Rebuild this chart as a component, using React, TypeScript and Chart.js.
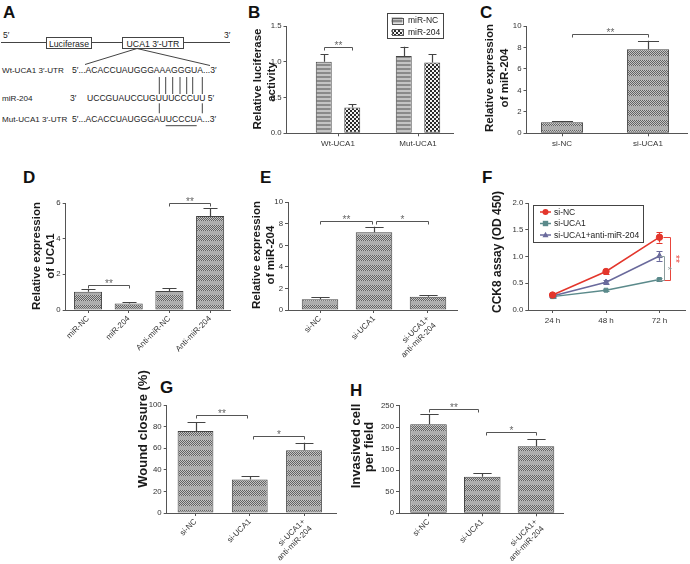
import React, { useEffect, useRef } from "react";
import { Chart, registerables } from "chart.js";

Chart.register(...registerables);

const FONT = "'Liberation Sans', Arial, Helvetica, sans-serif";
Chart.defaults.font.family = FONT;

// ===== Panel B =====
const bCategories = ["Wt-UCA1", "Mut-UCA1"];
const bSeries = ["miR-NC", "miR-204"];
const bMiRNC = [1.0, 1.08];
const bMiRNCErr = [0.11, 0.13];
const bMiR204 = [0.36, 0.99];
const bMiR204Err = [0.05, 0.12];
const bYTicks = [0, 0.5, 1.0, 1.5];

// ===== Panel C =====
const cCategories = ["si-NC", "si-UCA1"];
const cValues = [1.02, 7.83];
const cErrors = [0.12, 0.8];
const cYTicks = [0, 2, 4, 6, 8, 10];

// ===== Panel D =====
const dCategories = ["miR-NC", "miR-204", "Anti-miR-NC", "Anti-miR-204"];
const dValues = [1.02, 0.37, 1.06, 5.27];
const dErrors = [0.14, 0.06, 0.15, 0.43];
const dYTicks = [0, 2, 4, 6];

// ===== Panel E =====
const eCategories = ["si-NC", "si-UCA1", ["si-UCA1+", "anti-miR-204"]];
const eValues = [0.99, 7.21, 1.24];
const eErrors = [0.18, 0.53, 0.15];
const eYTicks = [0, 2, 4, 6, 8, 10];

// ===== Panel F =====
const fCategories = ["24 h", "48 h", "72 h"];
const fSeries = ["si-NC", "si-UCA1", "si-UCA1+anti-miR-204"];
const fSiNC = [0.28, 0.72, 1.36];
const fSiNCErr = [0.02, 0.05, 0.1];
const fSiUCA1 = [0.25, 0.37, 0.57];
const fSiUCA1Err = [0.02, 0.02, 0.03];
const fAnti = [0.26, 0.52, 1.01];
const fAntiErr = [0.02, 0.04, 0.09];
const fYTicks = [0, 0.5, 1.0, 1.5, 2.0];

// ===== Panel G =====
const gCategories = ["si-NC", "si-UCA1", ["si-UCA1+", "anti-miR-204"]];
const gValues = [76, 31, 58];
const gErrors = [8, 3, 7];
const gYTicks = [0, 20, 40, 60, 80, 100];

// ===== Panel H =====
const hCategories = ["si-NC", "si-UCA1", ["si-UCA1+", "anti-miR-204"]];
const hValues = [207, 85, 156];
const hErrors = [23, 8, 16];
const hYTicks = [0, 50, 100, 150, 200, 250];

// ===== axis titles =====
const bTitle = ["Relative luciferase", "activity"];
const cTitle = ["Relative expression", "of miR-204"];
const dTitle = ["Relative expression", "of UCA1"];
const eTitle = ["Relative expression", "of miR-204"];
const fTitle = ["CCK8 assay (OD 450)"];
const gTitle = ["Wound closure (%)"];
const hTitle = ["Invasived cell", "per field"];

// ===== significance brackets ([datasetIndex, index]) =====
const bSig = [{ from: [0, 0], to: [1, 0], y: 1.21, text: "**" }];
const cSig = [{ from: [0, 0], to: [0, 1], y: 9.3, text: "**", dx1: 10 }];
const dSig = [
  { from: [0, 0], to: [0, 1], y: 1.4, text: "**" },
  { from: [0, 2], to: [0, 3], y: 6.0, text: "**" },
];
const eSig = [
  { from: [0, 0], to: [0, 1], y: 8.26, text: "**", dx2: -2 },
  { from: [0, 1], to: [0, 2], y: 8.26, text: "*", dx1: 2 },
];
const gSig = [
  { from: [0, 0], to: [0, 1], y: 90.7, text: "**", dx2: -3 },
  { from: [0, 1], to: [0, 2], y: 71, text: "*", dx1: 3 },
];
const hSig = [
  { from: [0, 0], to: [0, 1], y: 242, text: "**", dx2: -4 },
  { from: [0, 1], to: [0, 2], y: 190, text: "*", dx1: 4 },
];
const fSig = [
  { from: [0, 2], to: [1, 2], dx: 11, tick: 7, tdx: 6, text: "**", color: "#e8453c" },
  { from: [2, 2], to: [1, 2], dx: 5, tick: 5, tdx: 4, text: "*", color: "#8c9c9c" },
];

const F_COLORS = ["#e3362c", "#5b8a8b", "#6a6a9c"];
const F_STYLES = ["circle", "rect", "triangle"];

// ===== patterns =====
function makePattern(kind: string): any {
  const c = document.createElement("canvas");
  const ctx = c.getContext("2d")!;
  if (kind === "checker") {
    c.width = 4;
    c.height = 4;
    ctx.fillStyle = "#f2f2f2";
    ctx.fillRect(0, 0, 4, 4);
    ctx.fillStyle = "#2a2a2a";
    ctx.fillRect(0, 0, 2, 2);
    ctx.fillRect(2, 2, 2, 2);
  } else if (kind === "stripes") {
    c.width = 2;
    c.height = 4;
    ctx.fillStyle = "#8a8a8a";
    ctx.fillRect(0, 0, 2, 2);
    ctx.fillStyle = "#c4c4c4";
    ctx.fillRect(0, 2, 2, 2);
  } else {
    c.width = 2;
    c.height = 10;
    for (let yy = 0; yy < 6; yy++)
      for (let xx = 0; xx < 2; xx++) {
        ctx.fillStyle = (xx + yy) % 2 ? "#c4c4c4" : "#626262";
        ctx.fillRect(xx, yy, 1, 1);
      }
    ctx.fillStyle = "#adadad";
    ctx.fillRect(0, 6, 2, 4);
  }
  return ctx.createPattern(c, "repeat");
}

// ===== plugins =====
function errorBars(errs: any[], opt: any = {}) {
  const draw = (chart: any) => {
    const ctx = chart.ctx;
    const ys = chart.scales.y;
    ctx.save();
    errs.forEach((arr: number[], di: number) => {
      if (!arr) return;
      const meta = chart.getDatasetMeta(di);
      const ds = chart.data.datasets[di];
      ctx.strokeStyle = opt.color || ds.borderColor || "#444";
      ctx.lineWidth = opt.width || 1.2;
      meta.data.forEach((el: any, i: number) => {
        const v = ds.data[i];
        const e = arr[i];
        if (e == null) return;
        const x = Math.round(el.x) + 0.5;
        const y0 = ys.getPixelForValue(opt.both ? v - e : v);
        const y1 = ys.getPixelForValue(v + e);
        const cap = opt.cap != null ? opt.cap : el.width * (opt.capRatio || 0.5);
        ctx.beginPath();
        ctx.moveTo(x, y0);
        ctx.lineTo(x, y1);
        const yc = Math.round(y1) + 0.5;
        ctx.moveTo(x - cap / 2, yc);
        ctx.lineTo(x + cap / 2, yc);
        if (opt.both) {
          const yd = Math.round(y0) + 0.5;
          ctx.moveTo(x - cap / 2, yd);
          ctx.lineTo(x + cap / 2, yd);
        }
        ctx.stroke();
      });
    });
    ctx.restore();
  };
  return opt.before
    ? { id: "errorBars", beforeDatasetsDraw: draw }
    : { id: "errorBars", afterDatasetsDraw: draw };
}

function sigBrackets(items: any[]) {
  return {
    id: "sigBrackets",
    afterDraw(chart: any) {
      const ctx = chart.ctx;
      const ys = chart.scales.y;
      ctx.save();
      ctx.lineWidth = 1;
      for (const it of items) {
        const e1 = chart.getDatasetMeta(it.from[0]).data[it.from[1]];
        const e2 = chart.getDatasetMeta(it.to[0]).data[it.to[1]];
        ctx.strokeStyle = it.color || "#555";
        ctx.fillStyle = it.color || "#666";
        if (it.dx != null) {
          const x = Math.round(Math.max(e1.x, e2.x) + it.dx) + 0.5;
          const y1 = Math.round(e1.y) + 0.5;
          const y2 = Math.round(e2.y) + 0.5;
          ctx.beginPath();
          ctx.moveTo(x - it.tick, y1);
          ctx.lineTo(x, y1);
          ctx.lineTo(x, y2);
          ctx.lineTo(x - it.tick, y2);
          ctx.stroke();
          ctx.save();
          ctx.translate(x + it.tdx, (y1 + y2) / 2);
          ctx.rotate(Math.PI / 2);
          ctx.font = `10px ${FONT}`;
          ctx.textAlign = "center";
          ctx.textBaseline = "middle";
          ctx.fillText(it.text, 0, 2);
          ctx.restore();
        } else {
          const x1 = Math.round(e1.x + (it.dx1 || 0)) + 0.5;
          const x2 = Math.round(e2.x + (it.dx2 || 0)) + 0.5;
          const yy = Math.round(ys.getPixelForValue(it.y)) + 0.5;
          ctx.beginPath();
          ctx.moveTo(x1, yy + 3);
          ctx.lineTo(x1, yy);
          ctx.lineTo(x2, yy);
          ctx.lineTo(x2, yy + 3);
          ctx.stroke();
          ctx.fillStyle = "#666";
          ctx.font = `10px ${FONT}`;
          ctx.textAlign = "center";
          ctx.textBaseline = "alphabetic";
          ctx.fillText(it.text, (x1 + x2) / 2, yy + 1.5);
        }
      }
      ctx.restore();
    },
  };
}

// y-axis title lines, each positioned by its own centre (page coordinates)
function axisTitle(g: any, lines: string[], xs: number[], ys: number[], size: number) {
  return {
    id: "axisTitle",
    afterDraw(chart: any) {
      const ctx = chart.ctx;
      ctx.save();
      ctx.fillStyle = "#1a1a1a";
      ctx.font = `bold ${size}px ${FONT}`;
      ctx.textAlign = "center";
      ctx.textBaseline = "middle";
      lines.forEach((t, i) => {
        ctx.save();
        ctx.translate(xs[i] - g.left, ys[i] - g.top);
        ctx.rotate(-Math.PI / 2);
        ctx.fillText(t, 0, 0);
        ctx.restore();
      });
      ctx.restore();
    },
  };
}

function drawMarker(ctx: any, style: string, x: number, y: number, r: number, color: string) {
  ctx.fillStyle = color;
  ctx.beginPath();
  if (style === "circle") ctx.arc(x, y, r, 0, Math.PI * 2);
  else if (style === "rect") ctx.rect(x - r * 0.9, y - r * 0.9, r * 1.8, r * 1.8);
  else {
    ctx.moveTo(x, y - r * 1.1);
    ctx.lineTo(x + r, y + r * 0.75);
    ctx.lineTo(x - r, y + r * 0.75);
    ctx.closePath();
  }
  ctx.fill();
}

function boxLegend(o: any) {
  return {
    id: "boxLegend",
    afterDraw(chart: any) {
      const ctx = chart.ctx;
      ctx.save();
      ctx.strokeStyle = "#444";
      ctx.lineWidth = 1;
      ctx.strokeRect(Math.round(o.box.x) + 0.5, Math.round(o.box.y) + 0.5, o.box.w, o.box.h);
      chart.data.datasets.forEach((ds: any, i: number) => {
        const y = o.ys[i];
        if (o.kind === "swatch") {
          ctx.fillStyle = ds.backgroundColor;
          ctx.fillRect(o.markX, y - o.sh / 2, o.sw, o.sh);
          ctx.strokeStyle = "#555";
          ctx.strokeRect(Math.round(o.markX) + 0.5, Math.round(y - o.sh / 2) + 0.5, o.sw, o.sh);
        } else {
          ctx.strokeStyle = ds.borderColor;
          ctx.lineWidth = 1.5;
          ctx.beginPath();
          ctx.moveTo(o.markX, y);
          ctx.lineTo(o.markX + o.lineLen, y);
          ctx.stroke();
          drawMarker(ctx, ds.pointStyle, o.markX + o.lineLen / 2, y, 3, ds.borderColor);
        }
        ctx.fillStyle = "#222";
        ctx.font = `${o.fontSize}px ${FONT}`;
        ctx.textAlign = "left";
        ctx.textBaseline = "middle";
        ctx.fillText(ds.label, o.textX, y + 0.5);
      });
      ctx.restore();
    },
  };
}

// ===== geometry =====
type Geom = {
  left: number;
  top: number;
  width: number;
  height: number;
  area: { l: number; r: number; t: number; b: number };
};

const geomB: Geom = { left: 248, top: 0, width: 211, height: 160, area: { l: 286.5, r: 453, t: 26, b: 133.3 } };
const geomC: Geom = { left: 480, top: 0, width: 210, height: 160, area: { l: 526.5, r: 687, t: 26, b: 133.3 } };
const geomD: Geom = { left: 28, top: 185, width: 207, height: 175, area: { l: 65.7, r: 230, t: 203, b: 310 } };
const geomE: Geom = { left: 248, top: 185, width: 214, height: 175, area: { l: 288, r: 457, t: 202.3, b: 310 } };
const geomF: Geom = { left: 489, top: 185, width: 201, height: 150, area: { l: 528.3, r: 688, t: 203, b: 310 } };
const geomG: Geom = { left: 134, top: 360, width: 207, height: 204, area: { l: 166.7, r: 336, t: 405, b: 513 } };
const geomH: Geom = { left: 346, top: 385, width: 222, height: 179, area: { l: 399, r: 563, t: 405.7, b: 513.3 } };

function baseOptions(p: any) {
  const g: Geom = p.geom;
  const padTop = g.area.t - g.top;
  const padRight = g.left + g.width - g.area.r;
  const yW = g.area.l - g.left;
  const xH = g.top + g.height - g.area.b;
  const areaW = g.area.r - g.area.l;
  const startValue = -(p.c0 - g.area.l) / p.sp;
  const valueRange = areaW / p.sp;
  const yTicks: number[] = p.yTicks;
  return {
    animation: false,
    responsive: false,
    maintainAspectRatio: false,
    events: [],
    layout: { padding: { top: padTop, right: padRight, left: 0, bottom: 0 } },
    plugins: { legend: { display: false }, tooltip: { enabled: false }, title: { display: false } },
    scales: {
      x: {
        type: "category",
        offset: true,
        grid: {
          display: true,
          drawOnChartArea: false,
          drawTicks: true,
          tickLength: 3,
          offset: false,
          color: "#555",
          tickColor: "#555",
        },
        border: { display: true, color: "#555", width: 1 },
        ticks: {
          autoSkip: false,
          maxRotation: p.rotation,
          minRotation: p.rotation,
          padding: p.rotation ? 1 : 3,
          color: "#333",
          font: { size: 8 },
        },
        afterBuildTicks: (s: any) => {
          s._startValue = startValue;
          s._valueRange = valueRange;
        },
        afterFit: (s: any) => {
          s.height = xH;
          s.paddingLeft = 0;
          s.paddingRight = 0;
          s.paddingTop = 0;
          s.paddingBottom = 0;
        },
      },
      y: {
        type: "linear",
        min: yTicks[0],
        max: yTicks[yTicks.length - 1],
        afterBuildTicks: (s: any) => {
          s.ticks = yTicks.map((v) => ({ value: v }));
        },
        ticks: {
          callback: (v: any) => Number(v).toFixed(p.decimals),
          color: "#333",
          font: { size: 7.8 },
          padding: 2,
        },
        grid: {
          drawOnChartArea: false,
          drawTicks: true,
          tickLength: 3,
          color: "#555",
          tickColor: "#555",
        },
        border: { display: true, color: "#555", width: 1 },
        title: { display: false },
        afterFit: (s: any) => {
          s.width = yW;
          s.paddingLeft = 0;
          s.paddingRight = 0;
          s.paddingTop = 0;
          s.paddingBottom = 0;
        },
      },
    },
  };
}

function singleBarConfig(p: any) {
  const mixed = makePattern("mixed");
  return {
    type: "bar",
    data: {
      labels: p.labels,
      datasets: [
        {
          data: p.values,
          backgroundColor: mixed,
          borderColor: "#444",
          borderWidth: 1,
          borderSkipped: false,
          categoryPercentage: 1,
          barPercentage: p.barPct,
        },
      ],
    },
    options: baseOptions(p),
    plugins: [
      errorBars([p.errors], { width: 1.2 }),
      sigBrackets(p.sig),
      axisTitle(p.geom, p.title, p.tx, p.ty, p.titleSize),
    ],
  };
}

const makeB = () => {
  const stripes = makePattern("stripes");
  const checker = makePattern("checker");
  const g = geomB;
  return {
    type: "bar",
    data: {
      labels: bCategories,
      datasets: [
        {
          label: bSeries[0],
          data: bMiRNC,
          backgroundColor: stripes,
          borderColor: "#444",
          borderWidth: 1,
          borderSkipped: false,
          categoryPercentage: 0.7125,
          barPercentage: 0.56,
        },
        {
          label: bSeries[1],
          data: bMiR204,
          backgroundColor: checker,
          borderColor: "#444",
          borderWidth: 1,
          borderSkipped: false,
          categoryPercentage: 0.7125,
          barPercentage: 0.56,
        },
      ],
    },
    options: baseOptions({
      geom: g,
      yTicks: bYTicks,
      decimals: 1,
      c0: 338,
      sp: 80,
      rotation: 0,
    }),
    plugins: [
      errorBars([bMiRNCErr, bMiR204Err], { width: 1.2 }),
      sigBrackets(bSig),
      axisTitle(g, bTitle, [258, 272], [79, 82], 11.5),
      boxLegend({
        kind: "swatch",
        box: { x: 387 - g.left, y: 13 - g.top, w: 56, h: 25 },
        ys: [20.5 - g.top, 32 - g.top],
        markX: 391.5 - g.left,
        sw: 11,
        sh: 6,
        textX: 408 - g.left,
        fontSize: 8.5,
      }),
    ],
  };
};

const makeC = () =>
  singleBarConfig({
    geom: geomC,
    labels: cCategories,
    values: cValues,
    errors: cErrors,
    sig: cSig,
    yTicks: cYTicks,
    decimals: 0,
    title: cTitle,
    tx: [490, 505],
    ty: [78, 78],
    titleSize: 11.5,
    c0: 562,
    sp: 86,
    rotation: 0,
    barPct: 0.49,
  });

const makeD = () =>
  singleBarConfig({
    geom: geomD,
    labels: dCategories,
    values: dValues,
    errors: dErrors,
    sig: dSig,
    yTicks: dYTicks,
    decimals: 0,
    title: dTitle,
    tx: [37, 50.5],
    ty: [256, 256],
    titleSize: 11.5,
    c0: 88,
    sp: 40.7,
    rotation: 45,
    barPct: 0.69,
  });

const makeE = () =>
  singleBarConfig({
    geom: geomE,
    labels: eCategories,
    values: eValues,
    errors: eErrors,
    sig: eSig,
    yTicks: eYTicks,
    decimals: 0,
    title: eTitle,
    tx: [257, 271],
    ty: [255, 255],
    titleSize: 11.5,
    c0: 320,
    sp: 54,
    rotation: 45,
    barPct: 0.676,
  });

const makeG = () =>
  singleBarConfig({
    geom: geomG,
    labels: gCategories,
    values: gValues,
    errors: gErrors,
    sig: gSig,
    yTicks: gYTicks,
    decimals: 0,
    title: gTitle,
    tx: [143],
    ty: [429],
    titleSize: 13,
    c0: 195.5,
    sp: 54.25,
    rotation: 45,
    barPct: 0.66,
  });

const makeH = () =>
  singleBarConfig({
    geom: geomH,
    labels: hCategories,
    values: hValues,
    errors: hErrors,
    sig: hSig,
    yTicks: hYTicks,
    decimals: 0,
    title: hTitle,
    tx: [356, 369.5],
    ty: [446, 447],
    titleSize: 13,
    c0: 428.5,
    sp: 53.75,
    rotation: 45,
    barPct: 0.68,
  });

const makeF = () => {
  const g = geomF;
  const series = [fSiNC, fSiUCA1, fAnti];
  return {
    type: "line",
    data: {
      labels: fCategories,
      datasets: series.map((d, i) => ({
        label: fSeries[i],
        data: d,
        borderColor: F_COLORS[i],
        backgroundColor: F_COLORS[i],
        pointBackgroundColor: F_COLORS[i],
        pointBorderColor: F_COLORS[i],
        pointStyle: F_STYLES[i],
        pointRadius: i === 1 ? 2.8 : 3.2,
        pointBorderWidth: 1,
        borderWidth: 1.5,
        tension: 0,
        fill: false,
      })),
    },
    options: baseOptions({
      geom: g,
      yTicks: fYTicks,
      decimals: 1,
      c0: 553,
      sp: 54.5,
      rotation: 0,
    }),
    plugins: [
      errorBars([fSiNCErr, fSiUCA1Err, fAntiErr], { both: true, cap: 6, width: 1.2, before: true }),
      sigBrackets(fSig),
      axisTitle(g, fTitle, [498], [252], 12),
      boxLegend({
        kind: "line",
        box: { x: 533 - g.left, y: 205 - g.top, w: 110, h: 37 },
        ys: [212 - g.top, 223.5 - g.top, 235 - g.top],
        markX: 540 - g.left,
        lineLen: 11,
        textX: 554 - g.left,
        fontSize: 8.5,
      }),
    ],
  };
};

function ChartCanvas({ geom, make }: { geom: Geom; make: () => any }) {
  const ref = useRef<HTMLCanvasElement>(null);
  useEffect(() => {
    const chart = new Chart(ref.current as HTMLCanvasElement, make());
    return () => chart.destroy();
  }, []);
  return (
    <canvas
      ref={ref}
      width={geom.width}
      height={geom.height}
      style={{
        position: "absolute",
        left: geom.left,
        top: geom.top,
        width: geom.width,
        height: geom.height,
      }}
    />
  );
}

const wtPairX = [159.3, 165.7, 172.7, 180, 186.7, 192.7, 202.3];
const mutPairX = [159.3, 202.3];

function Overlay() {
  const letters: [string, number, number][] = [
    ["A", 3, 17.5],
    ["B", 248, 17.5],
    ["C", 480, 17.5],
    ["D", 23, 182.5],
    ["E", 260, 182.5],
    ["F", 482, 182.5],
    ["G", 160, 392.5],
    ["H", 350, 396],
  ];
  return (
    <svg
      width={690}
      height={564}
      style={{ position: "absolute", left: 0, top: 0 }}
      fontFamily={FONT}
    >
      {letters.map(([t, x, y]) => (
        <text key={t} x={x} y={y} fontSize={17} fontWeight="bold" fill="#111">
          {t}
        </text>
      ))}
      <g fill="#222" stroke="none">
        <text x={3} y={38} fontSize={8.5}>5′</text>
        <text x={224} y={38} fontSize={8.5}>3′</text>
        <line x1={1} y1={42.5} x2={230} y2={42.5} stroke="#444" />
        <rect x={46.5} y={37.5} width={45} height={11} fill="#fff" stroke="#444" />
        <text x={69} y={46.5} fontSize={8.7} textAnchor="middle">Luciferase</text>
        <rect x={122.5} y={37.5} width={61} height={11} fill="#fff" stroke="#444" />
        <text x={153} y={46.5} fontSize={8.7} textAnchor="middle">UCA1 3′-UTR</text>
        <line x1={137} y1={48.5} x2={85} y2={64.5} stroke="#444" />
        <line x1={137} y1={48.5} x2={210} y2={65.5} stroke="#444" />
        <text x={2} y={72.7} fontSize={8.1}>Wt-UCA1 3′-UTR</text>
        <text x={72} y={72.7} fontSize={8.6}>5′...ACACCUAUGGGAAAGGGUA...3′</text>
        {wtPairX.map((x, i) => (
          <line key={"w" + i} x1={x} y1={77} x2={x} y2={94} stroke="#444" />
        ))}
        <text x={2} y={100.7} fontSize={8.1}>miR-204</text>
        <text x={70} y={100.7} fontSize={8.6}>3′</text>
        <text x={87} y={100.7} fontSize={8.6}>UCCGUAUCCUGUUUCCCUU 5′</text>
        {mutPairX.map((x, i) => (
          <line key={"m" + i} x1={x} y1={103.3} x2={x} y2={113.3} stroke="#444" />
        ))}
        <text x={2} y={121.7} fontSize={8.1}>Mut-UCA1 3′-UTR</text>
        <text x={72} y={121.7} fontSize={8.6}>5′...ACACCUAUGGGAUUCCCUA...3′</text>
        <line x1={165.7} y1={125.7} x2={196.7} y2={125.7} stroke="#444" />
      </g>
    </svg>
  );
}

export default function App() {
  return (
    <div
      style={{
        position: "absolute",
        left: 0,
        top: 0,
        width: 690,
        height: 564,
        background: "#fff",
        overflow: "hidden",
      }}
    >
      <Overlay />
      <ChartCanvas geom={geomB} make={makeB} />
      <ChartCanvas geom={geomC} make={makeC} />
      <ChartCanvas geom={geomD} make={makeD} />
      <ChartCanvas geom={geomE} make={makeE} />
      <ChartCanvas geom={geomF} make={makeF} />
      <ChartCanvas geom={geomG} make={makeG} />
      <ChartCanvas geom={geomH} make={makeH} />
    </div>
  );
}
